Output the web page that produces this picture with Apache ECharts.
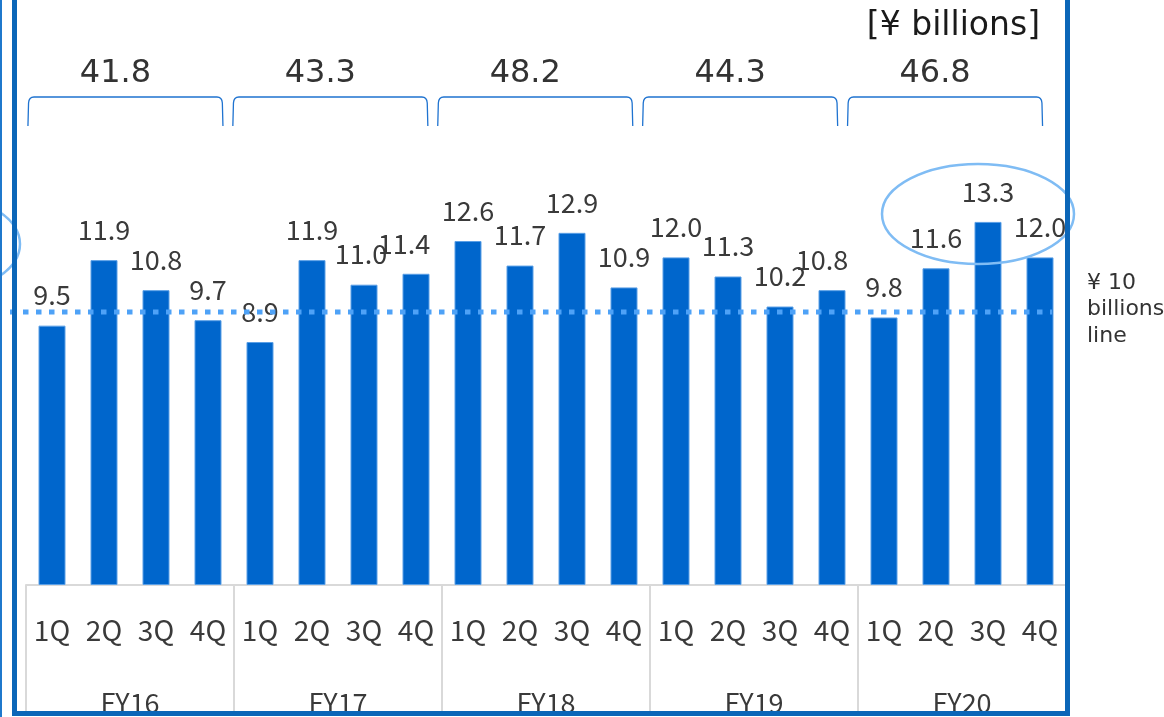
<!DOCTYPE html>
<html>
<head>
<meta charset="utf-8">
<script src="https://cdn.jsdelivr.net/npm/echarts@6/dist/echarts.min.js"></script>
<style>
  html, body { margin: 0; padding: 0; background: #ffffff; }
  #chart { width: 1164px; height: 717px; }
</style>
</head>
<body>
<div id="chart"></div>
<script>
// Quarterly sales, ¥ billions
const fiscalYears = ['FY16', 'FY17', 'FY18', 'FY19', 'FY20'];
const quarters = ['1Q', '2Q', '3Q', '4Q'];
const quarterlyValues = [
  9.5, 11.9, 10.8, 9.7,
  8.9, 11.9, 11.0, 11.4,
  12.6, 11.7, 12.9, 10.9,
  12.0, 11.3, 10.2, 10.8,
  9.8, 11.6, 13.3, 12.0
];
const annualTotals = [41.8, 43.3, 48.2, 44.3, 46.8];
const thresholdValue = 10;
const unitLabel = '[¥ billions]';
const thresholdLabel = '¥ 10\nbillions\nline';

// one category per quarter, keyed by year so the names stay unique
const quarterKeys = [];
fiscalYears.forEach(fy => quarters.forEach(q => quarterKeys.push(fy + ' ' + q)));

// a couple of value labels sit slightly left so they don't crowd their neighbours
const labelNudge = { 6: -3, 7: -12, 15: -10 };

const CJK = '"Noto Sans CJK JP", "Noto Sans", sans-serif';
const WIDE = '"DejaVu Sans", sans-serif';
const BAR = '#0066cc';
const FRAME = '#0b66b8';
const ACCENT = '#7fbcf4';
const GRID_LINE = '#d9d9d9';

const chart = echarts.init(document.getElementById('chart'), null, { renderer: 'canvas' });

// bracket over each fiscal year with the annual total above it
function renderBracket(params, api) {
  const cx = api.coord([api.value(0), 0])[0];
  const half = 97.5;
  const x0 = cx - half, x1 = cx + half;
  const yTop = 97, yBot = 126, r = 6;
  return {
    type: 'group',
    children: [
      {
        type: 'path',
        shape: {
          pathData:
            'M' + x0 + ' ' + yBot + ' L' + (x0 + 0.6) + ' ' + (yTop + r) +
            ' Q' + (x0 + 1) + ' ' + yTop + ' ' + (x0 + r) + ' ' + yTop +
            ' L' + (x1 - r) + ' ' + yTop +
            ' Q' + (x1 - 1) + ' ' + yTop + ' ' + (x1 - 0.6) + ' ' + (yTop + r) +
            ' L' + x1 + ' ' + yBot
        },
        style: { fill: null, stroke: '#1f73d0', lineWidth: 1.3 }
      },
      {
        type: 'text',
        x: cx - 10,
        y: 74,
        style: {
          text: api.value(1).toFixed(1),
          fill: '#333333',
          font: '32px ' + WIDE,
          align: 'center',
          verticalAlign: 'middle'
        }
      }
    ]
  };
}

const option = {
  animation: false,
  backgroundColor: '#ffffff',
  grid: [
    { left: 26, right: 98, top: 39, bottom: 132, containLabel: false },
    // the annual brackets are laid out on a slightly narrower band
    { left: 23, right: 116.5, top: 39, bottom: 132, containLabel: false }
  ],
  xAxis: [
    {
      type: 'category',
      gridIndex: 0,
      position: 'bottom',
      data: quarterKeys,
      axisLine: { show: true, lineStyle: { color: GRID_LINE, width: 2 } },
      axisTick: { show: false },
      axisLabel: {
        interval: 0,
        margin: 31,
        fontFamily: CJK,
        fontSize: 28,
        color: '#3a3a3a',
        formatter: v => v.split(' ')[1]
      }
    },
    {
      type: 'category',
      gridIndex: 0,
      position: 'bottom',
      data: fiscalYears,
      axisLine: { show: false },
      axisTick: { show: true, interval: 0, length: 130, lineStyle: { color: GRID_LINE, width: 2 } },
      axisLabel: {
        interval: 0,
        margin: 104,
        fontFamily: CJK,
        fontSize: 27,
        color: '#3a3a3a'
      }
    },
    {
      type: 'category',
      gridIndex: 1,
      data: fiscalYears,
      show: false
    }
  ],
  yAxis: [
    { type: 'value', gridIndex: 0, min: 0, max: 20, show: false, splitLine: { show: false } },
    { type: 'value', gridIndex: 1, min: 0, max: 20, show: false, splitLine: { show: false } }
  ],
  series: [
    {
      type: 'bar',
      xAxisIndex: 0,
      yAxisIndex: 0,
      data: quarterlyValues.map((v, i) => ({
        value: v,
        label: labelNudge[i] ? { offset: [labelNudge[i], 0] } : undefined
      })),
      barWidth: 27,
      itemStyle: { color: BAR, borderColor: '#5a9fe6', borderWidth: 1 },
      label: {
        show: true,
        position: 'top',
        distance: 17,
        fontFamily: CJK,
        fontSize: 27,
        color: '#3a3a3a',
        formatter: p => p.value.toFixed(1)
      },
      z: 2
    },
    {
      type: 'custom',
      xAxisIndex: 2,
      yAxisIndex: 1,
      data: annualTotals.map((t, i) => [i, t]),
      renderItem: renderBracket,
      silent: true,
      z: 3
    }
  ]
};

chart.setOption(option);

// threshold line, its caption, highlight rings and the frame
const yThreshold = chart.convertToPixel({ yAxisIndex: 0 }, thresholdValue);
const xFirstRing = chart.convertToPixel({ xAxisIndex: 0 }, quarterKeys.length - 3);
const xLastRing = chart.convertToPixel({ xAxisIndex: 0 }, quarterKeys.length - 1);

chart.setOption({
  graphic: [
    {
      type: 'line',
      z: 20,
      shape: { x1: 10, y1: yThreshold, x2: 1052, y2: yThreshold },
      style: { stroke: '#4ea2f7', lineWidth: 5, lineDash: [5.5, 7.5] }
    },
    {
      type: 'text',
      z: 20,
      x: 1087,
      y: yThreshold - 2.5,
      style: {
        text: thresholdLabel,
        font: '22px ' + WIDE,
        fill: '#333333',
        lineHeight: 26.5,
        verticalAlign: 'middle'
      }
    },
    {
      type: 'text',
      z: 20,
      x: 1040,
      y: 26,
      style: {
        text: unitLabel,
        font: '33px ' + WIDE,
        fill: '#1a1a1a',
        align: 'right',
        verticalAlign: 'middle'
      }
    },
    {
      type: 'ellipse',
      z: 20,
      shape: { cx: (xFirstRing + xLastRing) / 2 - 10, cy: 214, rx: 96, ry: 50 },
      style: { fill: null, stroke: ACCENT, lineWidth: 2.5 }
    },
    {
      type: 'ellipse',
      z: 20,
      shape: { cx: -76, cy: 244, rx: 96, ry: 52 },
      style: { fill: null, stroke: ACCENT, lineWidth: 2.5 }
    },
    {
      type: 'line',
      z: 30,
      shape: { x1: 1, y1: 0, x2: 1, y2: 717 },
      style: { stroke: '#1f78cc', lineWidth: 2 }
    },
    {
      type: 'line',
      z: 30,
      shape: { x1: 14.5, y1: 0, x2: 14.5, y2: 716 },
      style: { stroke: FRAME, lineWidth: 5 }
    },
    {
      type: 'line',
      z: 30,
      shape: { x1: 1067.5, y1: 0, x2: 1067.5, y2: 716 },
      style: { stroke: FRAME, lineWidth: 5 }
    },
    {
      type: 'line',
      z: 30,
      shape: { x1: 12, y1: 713.5, x2: 1070, y2: 713.5 },
      style: { stroke: FRAME, lineWidth: 5 }
    }
  ]
});
</script>
</body>
</html>
